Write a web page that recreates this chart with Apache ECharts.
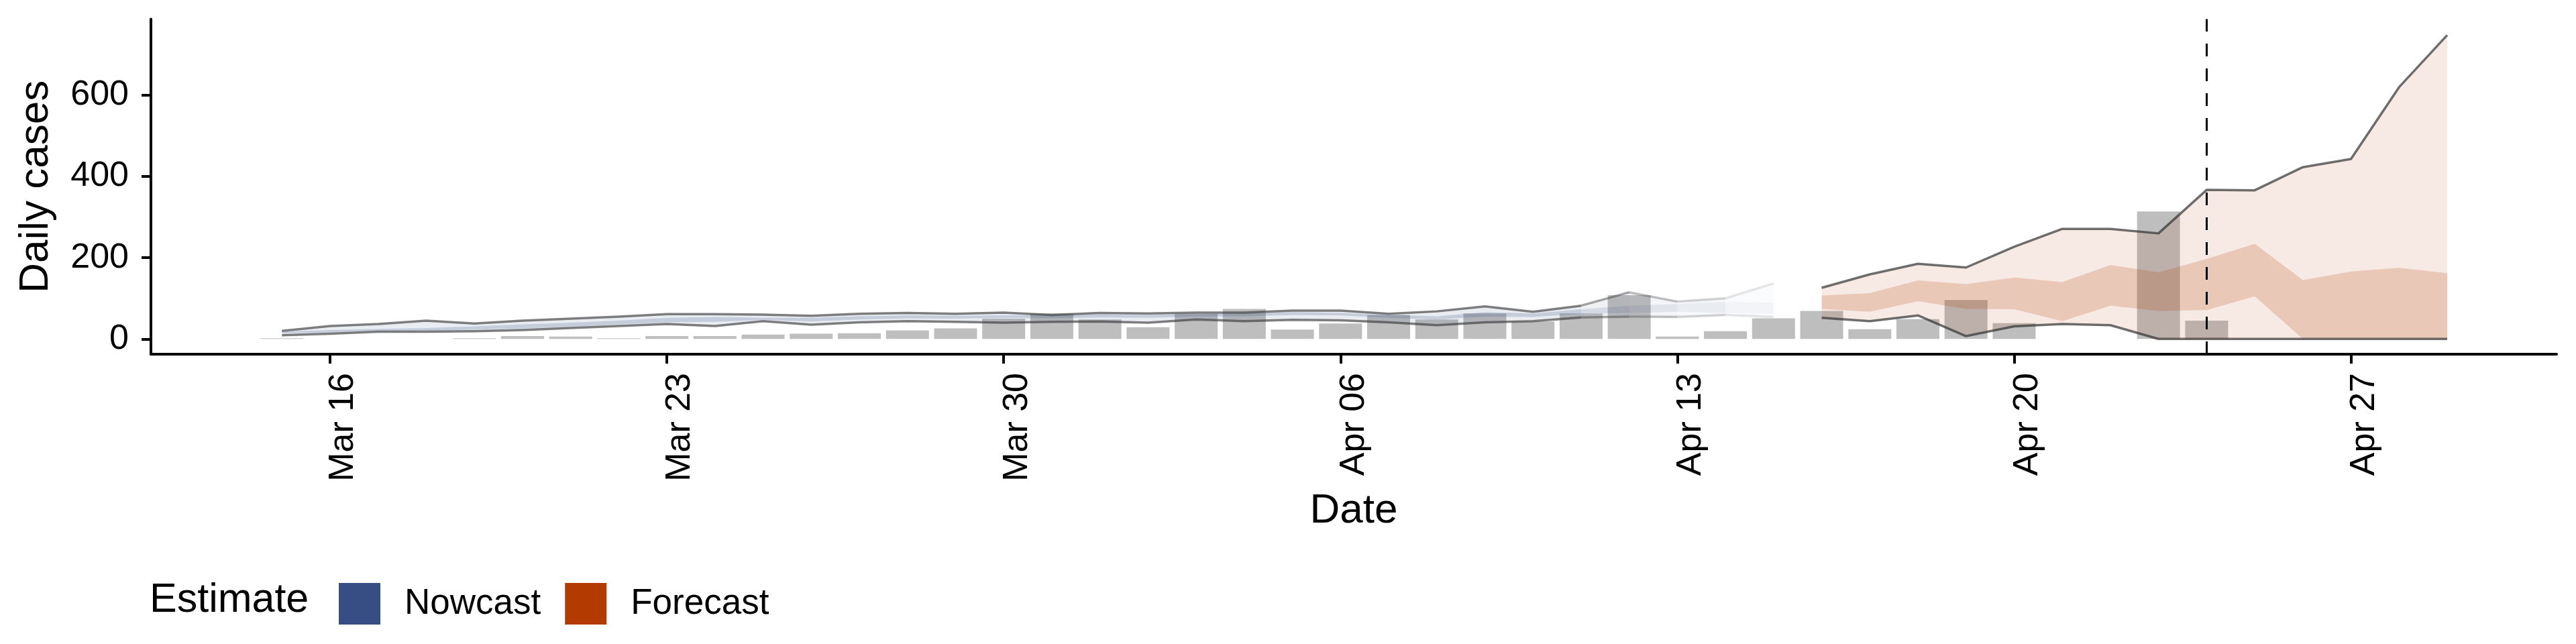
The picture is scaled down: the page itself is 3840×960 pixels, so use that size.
<!DOCTYPE html>
<html>
<head>
<meta charset="utf-8">
<script src="https://cdn.jsdelivr.net/npm/echarts@6/dist/echarts.min.js"></script>
<style>html,body{margin:0;padding:0;background:#fff}#chart{width:3840px;height:960px}</style>
</head>
<body>
<div id="chart"></div>
<script>
// ---------- data ----------
const tickDates  = ['2020-03-16','2020-03-23','2020-03-30','2020-04-06','2020-04-13','2020-04-20','2020-04-27'];
const tickLabels = ['Mar 16','Mar 23','Mar 30','Apr 06','Apr 13','Apr 20','Apr 27'];
const yTicks = [0, 200, 400, 600];

// reported daily cases (bars), one per day from barStart
const barStart = '2020-03-15';
const reportedCases = [0,null,null,null,0,7,6,0,7,7,11,13,14,21,26,50,63,48,29,62,74,23,38,59,48,63,43,63,108,6,19,51,69,24,49,96,39,null,null,314,45];

// nowcast, one per day from nowStart
const nowStart = '2020-03-15';
const nowUpper   = [20,32,37,45,38,45,50,55,61,61,60,57,62,64,62,65,59,64,63,65,65,70,70,62,68,80,67,82,115,92,100,137];
const nowLower   = [9,13,18,18,19,22,27,32,37,32,44,35,41,44,42,40,42,43,40,48,44,47,46,41,34,41,44,53,55,54,59,54];
const nowInnerHi = [18,22,25,27,31,36,40,45,52,54,52,52,56,58,57,58,59,60,59,61,63,66,64,59,56,66,63,73,82,86,92,89];
const nowInnerLo = [14,16,19,20,23,26,30,36,41,42,47,43,48,51,50,52,51,53,52,55,56,59,58,52,48,55,54,62,64,67,64,62];
const nowConfidence = [1,1,1,1,1,1,1,1,1,1,1,1,1,1,1,1,1,1,1,1,1,1,1,1,1,1,1,1,0.7,0.5,0.35,0.2];

// forecast, one per day from fcStart
const fcStart = '2020-04-16';
const fcUpper   = [126,159,185,176,227,271,271,260,367,366,423,443,620,748];
const fcLower   = [52,44,58,7,31,37,34,0,0,0,0,0,0,0];
const fcInnerHi = [107,113,144,135,151,140,182,164,197,234,145,166,175,162];
const fcInnerLo = [74,67,93,74,73,44,82,69,71,105,0,0,0,0];

const forecastDate = '2020-04-24';

// ---------- helpers ----------
const DAY0 = Date.UTC(2020, 2, 16);
function dayOf(s){ const p = s.split('-').map(Number); return (Date.UTC(p[0], p[1]-1, p[2]) - DAY0) / 86400000; }
const FONT = '"Liberation Sans", Arial, Helvetica, sans-serif';
const NOW = '#364E84', FC = '#B33A00';
function rgba(hex, a){ const n = parseInt(hex.slice(1), 16); return 'rgba(' + (n>>16) + ',' + ((n>>8)&255) + ',' + (n&255) + ',' + a + ')'; }

function bandSeries(name, start, lo, hi, w, hex, alpha, z){
  const s0 = dayOf(start);
  const data = lo.map((v, i) => [s0 + i, v, hi[i], w ? w[i] : 1]);
  return {
    type: 'custom', name: name, z: z, silent: true, clip: true,
    itemStyle: { color: hex }, data: data, encode: { x: 0, y: [1, 2] },
    renderItem: function(params, api){
      const i = params.dataIndexInside;
      if (i >= data.length - 1) return null;
      const xa = api.value(0, i), xb = api.value(0, i + 1);
      const pts = [api.coord([xa, api.value(1, i)]), api.coord([xb, api.value(1, i + 1)]),
                   api.coord([xb, api.value(2, i + 1)]), api.coord([xa, api.value(2, i)])];
      return { type: 'polygon', shape: { points: pts }, style: { fill: rgba(hex, alpha * api.value(3, i + 1)) } };
    }
  };
}

function edgeSeries(start, vals, w, rgb, alpha, width, z){
  const s0 = dayOf(start);
  const data = vals.map((v, i) => [s0 + i, v, w ? w[i] : 1]);
  return {
    type: 'custom', z: z, silent: true, clip: true, data: data, encode: { x: 0, y: 1 },
    renderItem: function(params, api){
      if (params.dataIndexInside !== 0) return null;
      const P = i => api.coord([api.value(0, i), api.value(1, i)]);
      const mk = (pts, a) => ({ type: 'polyline', shape: { points: pts },
        style: { stroke: 'rgba(' + rgb + ',' + (alpha * a) + ')', lineWidth: width, lineJoin: 'round', fill: null } });
      const kids = [];
      let run = [P(0)], cw = api.value(2, 1);
      for (let i = 1; i < data.length; i++){
        const wi = api.value(2, i);
        if (wi !== cw){ kids.push(mk(run, cw)); run = [run[run.length - 1]]; cw = wi; }
        run.push(P(i));
      }
      kids.push(mk(run, cw));
      return { type: 'group', children: kids };
    }
  };
}

// axis range (ggplot-style 5% expansion of data extent)
const b0 = dayOf(barStart);
const xLo = b0 - 0.45, xHi = dayOf(fcStart) + fcUpper.length - 1;
const xSpan = xHi - xLo;
const xMin = xLo - 0.05 * xSpan, xMax = xHi + 0.05 * xSpan;
const tickDays = tickDates.map(dayOf);

const barData = [];
reportedCases.forEach((v, i) => { if (v !== null) barData.push([b0 + i, v]); });

const chart = echarts.init(document.getElementById('chart'), null, { renderer: 'canvas' });
chart.setOption({
  animation: false,
  backgroundColor: '#ffffff',
  grid: { left: 225, right: 29, top: 28.5, bottom: 432, outerBoundsMode: 'none' },
  xAxis: {
    type: 'value', min: xMin, max: xMax,
    name: 'Date', nameLocation: 'middle', nameGap: 203,
    nameTextStyle: { fontSize: 62, color: '#000', fontFamily: FONT },
    axisLine: { onZero: false, lineStyle: { color: '#000', width: 4 } },
    axisTick: { customValues: tickDays, length: 14, lineStyle: { color: '#000', width: 4 } },
    axisLabel: {
      customValues: tickDays, rotate: 90, margin: 28, fontSize: 52, color: '#000', fontFamily: FONT,
      verticalAlign: 'top', lineHeight: 40,
      formatter: v => tickLabels[tickDays.indexOf(v)]
    },
    splitLine: { show: false }
  },
  yAxis: {
    type: 'value', min: -37.5, max: 787.5,
    name: 'Daily cases', nameLocation: 'middle', nameGap: 140, nameRotate: 90,
    nameTextStyle: { fontSize: 62, color: '#000', fontFamily: FONT },
    axisLine: { show: true, onZero: false, lineStyle: { color: '#000', width: 4 } },
    axisTick: { show: true, customValues: yTicks, length: 14, lineStyle: { color: '#000', width: 4 } },
    axisLabel: { customValues: yTicks, margin: 33, fontSize: 52, color: '#000', fontFamily: FONT },
    splitLine: { show: false }
  },
  legend: {
    left: 500, top: 864, itemWidth: 62, itemHeight: 62, itemGap: 36, icon: 'rect', selectedMode: false,
    itemStyle: { borderWidth: 0 },
    textStyle: { fontSize: 53, color: '#000', fontFamily: FONT, padding: [0, 0, 0, 31] },
    data: [{ name: 'Nowcast', itemStyle: { color: NOW } }, { name: 'Forecast', itemStyle: { color: FC } }]
  },
  graphic: [{
    type: 'text', x: 223, y: 895,
    style: { text: 'Estimate', fontSize: 61, fontFamily: FONT, fill: '#000', verticalAlign: 'middle' }
  }],
  series: [
    { type: 'bar', name: 'Reported', z: 1, barWidth: 64, barMinHeight: 1, data: barData,
      itemStyle: { color: '#BEBEBE' }, silent: true },
    bandSeries('Nowcast', nowStart, nowLower, nowUpper, nowConfidence, NOW, 0.11, 2),
    bandSeries('Nowcast', nowStart, nowInnerLo, nowInnerHi, nowConfidence, NOW, 0.2, 2),
    bandSeries('Forecast', fcStart, fcLower, fcUpper, null, FC, 0.11, 2),
    bandSeries('Forecast', fcStart, fcInnerLo, fcInnerHi, null, FC, 0.19, 2),
    edgeSeries(nowStart, nowUpper, nowConfidence, '60,60,60', 0.65, 3.5, 3),
    edgeSeries(nowStart, nowLower, nowConfidence, '60,60,60', 0.65, 3.5, 3),
    edgeSeries(fcStart, fcUpper, null, '50,50,50', 0.7, 3.5, 3),
    edgeSeries(fcStart, fcLower, null, '50,50,50', 0.7, 3.5, 3),
    { type: 'line', z: 5, data: [], silent: true,
      markLine: { silent: true, symbol: ['none', 'none'], label: { show: false },
        lineStyle: { color: '#000', width: 3, type: [19, 18] },
        data: [{ xAxis: dayOf(forecastDate) }] } }
  ]
});
</script>
</body>
</html>
